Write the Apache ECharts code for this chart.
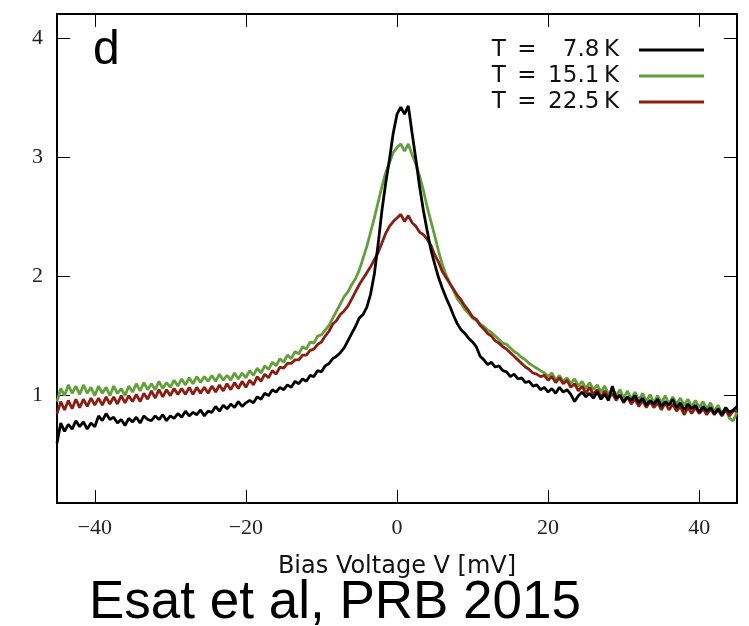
<!DOCTYPE html>
<html>
<head>
<meta charset="utf-8">
<script src="https://cdn.jsdelivr.net/npm/echarts@6/dist/echarts.min.js"></script>
<style>html,body{margin:0;padding:0;background:#fff}#c{width:749px;height:626px}</style>
</head>
<body>
<div id="c"></div>
<script>
// Bias voltage samples [mV]
const voltage = [
-45,-44.5,-44,-43.5,-43,-42.5,-42,-41.5,-41,-40.5,
-40,-39.5,-39,-38.5,-38,-37.5,-37,-36.5,-36,-35.5,
-35,-34.5,-34,-33.5,-33,-32.5,-32,-31.5,-31,-30.5,
-30,-29.5,-29,-28.5,-28,-27.5,-27,-26.5,-26,-25.5,
-25,-24.5,-24,-23.5,-23,-22.5,-22,-21.5,-21,-20.5,
-20,-19.5,-19,-18.5,-18,-17.5,-17,-16.5,-16,-15.5,
-15,-14.5,-14,-13.5,-13,-12.5,-12,-11.5,-11,-10.5,
-10,-9.5,-9,-8.5,-8,-7.5,-7,-6.5,-6,-5.5,
-5,-4.5,-4,-3.5,-3,-2.5,-2,-1.5,-1,-0.5,
0,0.5,1,1.5,2,2.5,3,3.5,4,4.5,
5,5.5,6,6.5,7,7.5,8,8.5,9,9.5,
10,10.5,11,11.5,12,12.5,13,13.5,14,14.5,
15,15.5,16,16.5,17,17.5,18,18.5,19,19.5,
20,20.5,21,21.5,22,22.5,23,23.5,24,24.5,
25,25.5,26,26.5,27,27.5,28,28.5,29,29.5,
30,30.5,31,31.5,32,32.5,33,33.5,34,34.5,
35,35.5,36,36.5,37,37.5,38,38.5,39,39.5,
40,40.5,41,41.5,42,42.5,43,43.5,44,44.5,
45];

const t78 = [
0.60,0.77,0.70,0.76,0.72,0.79,0.74,0.78,0.72,0.77,
0.74,0.83,0.79,0.85,0.80,0.82,0.77,0.80,0.75,0.81,
0.78,0.82,0.77,0.83,0.80,0.79,0.83,0.80,0.84,0.79,
0.83,0.81,0.85,0.82,0.87,0.83,0.86,0.84,0.88,0.83,
0.87,0.86,0.91,0.87,0.92,0.89,0.93,0.90,0.95,0.91,
0.94,0.96,0.94,0.99,0.97,1.02,1.00,1.05,1.03,1.07,
1.05,1.09,1.07,1.12,1.10,1.14,1.12,1.17,1.16,1.21,
1.20,1.25,1.27,1.31,1.33,1.36,1.40,1.46,1.52,1.58,
1.65,1.68,1.74,1.85,2.02,2.27,2.55,2.78,2.98,3.20,
3.36,3.42,3.36,3.43,3.20,2.98,2.75,2.55,2.38,2.22,
2.10,1.99,1.90,1.82,1.75,1.67,1.60,1.55,1.52,1.48,
1.45,1.41,1.33,1.30,1.26,1.28,1.24,1.25,1.21,1.20,
1.16,1.18,1.14,1.15,1.11,1.12,1.08,1.09,1.05,1.07,
1.03,1.06,1.02,1.07,1.03,1.05,1.01,0.95,1.00,1.03,
0.99,1.02,0.98,1.03,0.97,1.01,0.96,1.08,0.98,1.00,
0.95,0.99,0.96,1.00,0.94,0.98,0.92,0.96,0.93,0.97,
0.91,0.95,0.92,0.97,0.90,0.94,0.88,0.93,0.89,0.92,
0.86,0.91,0.87,0.90,0.85,0.89,0.84,0.90,0.86,0.88,
0.91];

const t151 = [
0.95,1.06,1.00,1.09,1.02,1.08,1.01,1.09,1.02,1.07,
1.00,1.08,1.02,1.07,1.00,1.08,1.02,1.06,1.00,1.08,
1.03,1.10,1.04,1.11,1.05,1.10,1.05,1.12,1.06,1.11,
1.07,1.13,1.08,1.14,1.09,1.15,1.10,1.16,1.11,1.16,
1.12,1.17,1.12,1.18,1.13,1.17,1.13,1.19,1.14,1.19,
1.15,1.21,1.17,1.23,1.19,1.25,1.22,1.28,1.25,1.31,
1.28,1.34,1.31,1.37,1.35,1.41,1.39,1.45,1.44,1.50,
1.51,1.55,1.59,1.65,1.71,1.77,1.83,1.87,1.93,1.98,
2.05,2.15,2.25,2.37,2.49,2.62,2.75,2.87,2.95,3.04,
3.08,3.11,3.05,3.11,3.02,2.94,2.84,2.72,2.58,2.46,
2.34,2.21,2.10,2.01,1.94,1.88,1.81,1.77,1.72,1.69,
1.65,1.63,1.60,1.58,1.55,1.53,1.50,1.47,1.44,1.43,
1.40,1.37,1.35,1.32,1.30,1.27,1.25,1.23,1.21,1.19,
1.16,1.19,1.13,1.17,1.12,1.15,1.10,1.14,1.08,1.12,
1.06,1.11,1.05,1.09,1.03,1.08,1.01,1.06,1.00,1.05,
0.98,1.04,0.97,1.03,0.96,1.02,0.95,1.01,0.94,1.00,
0.94,1.00,0.93,0.99,0.93,0.98,0.92,0.97,0.91,0.96,
0.90,0.95,0.89,0.94,0.87,0.92,0.85,0.90,0.81,0.79,
0.86];

const t225 = [
0.85,0.95,0.88,0.96,0.89,0.97,0.90,0.97,0.91,0.98,
0.92,0.98,0.92,0.99,0.93,0.99,0.93,1.00,0.94,1.00,
0.95,1.01,0.95,1.02,0.97,1.04,0.98,1.05,0.99,1.05,
1.00,1.06,1.01,1.06,1.01,1.07,1.01,1.07,1.02,1.07,
1.02,1.08,1.03,1.09,1.04,1.10,1.05,1.11,1.06,1.12,
1.07,1.13,1.09,1.16,1.12,1.18,1.15,1.21,1.18,1.24,
1.23,1.27,1.27,1.30,1.30,1.34,1.34,1.38,1.39,1.43,
1.45,1.50,1.54,1.60,1.63,1.68,1.71,1.75,1.81,1.87,
1.93,1.98,2.03,2.08,2.14,2.20,2.28,2.36,2.42,2.46,
2.49,2.52,2.46,2.51,2.45,2.42,2.37,2.35,2.31,2.26,
2.18,2.12,2.04,1.99,1.94,1.89,1.84,1.80,1.75,1.71,
1.66,1.64,1.59,1.56,1.52,1.50,1.46,1.44,1.41,1.39,
1.36,1.33,1.30,1.27,1.24,1.22,1.19,1.18,1.16,1.17,
1.13,1.16,1.11,1.15,1.10,1.13,1.07,1.10,1.04,1.08,
1.02,1.07,1.01,1.05,0.99,1.04,0.98,1.02,0.96,1.01,
0.94,0.99,0.93,0.97,0.91,0.96,0.90,0.95,0.90,0.94,
0.88,0.94,0.88,0.93,0.87,0.91,0.84,0.90,0.85,0.90,
0.85,0.89,0.84,0.89,0.84,0.88,0.83,0.88,0.83,0.87,
0.87];

const xTicks = [-40, -20, 0, 20, 40];
const yTicks = [1, 2, 3, 4];
const names = ['T\u2002=\u2002\u20077.8\u2009K', 'T\u2002=\u200215.1\u2009K', 'T\u2002=\u200222.5\u2009K'];
const colors = ['#000000', '#62a03a', '#8c1c10'];

const pairs = arr => voltage.map((v, i) => [v, arr[i]]);
const serif = 'Liberation Serif';
const sans = 'DejaVu Sans';
const minus = v => (v < 0 ? '\u2212' + Math.abs(v) : String(v));

const chart = echarts.init(document.getElementById('c'), null, {renderer: 'canvas'});
const tickCommon = {show: true, inside: true, length: 13, lineStyle: {color: '#000', width: 1}};
const noLine = {show: false, onZero: false};

chart.setOption({
  animation: false,
  backgroundColor: '#fff',
  grid: {left: 57, right: 12, top: 14, bottom: 123, show: true, borderColor: '#000', borderWidth: 2, backgroundColor: 'transparent'},
  xAxis: [
    {type: 'value', min: -45, max: 45, position: 'bottom',
     axisLine: noLine, splitLine: {show: false},
     axisTick: Object.assign({customValues: xTicks}, tickCommon),
     axisLabel: {customValues: xTicks, formatter: minus, fontFamily: serif, fontSize: 22, color: '#222', margin: 14},
     name: 'Bias Voltage V [mV]', nameLocation: 'middle', nameGap: 52,
     nameTextStyle: {fontFamily: sans, fontSize: 24, color: '#111'}},
    {type: 'value', min: -45, max: 45, position: 'top',
     axisLine: noLine, splitLine: {show: false},
     axisTick: Object.assign({customValues: xTicks}, tickCommon),
     axisLabel: {show: false}}
  ],
  yAxis: [
    {type: 'value', min: 0.1, max: 4.2, position: 'left',
     axisLine: noLine, splitLine: {show: false},
     axisTick: Object.assign({customValues: yTicks}, tickCommon),
     axisLabel: {customValues: yTicks, fontFamily: serif, fontSize: 22, color: '#222', margin: 14}},
    {type: 'value', min: 0.1, max: 4.2, position: 'right',
     axisLine: noLine, splitLine: {show: false},
     axisTick: Object.assign({customValues: yTicks}, tickCommon),
     axisLabel: {show: false}}
  ],
  legend: {
    orient: 'vertical', right: 40, top: 33, align: 'right',
    itemWidth: 65, itemHeight: 3, itemGap: 2, icon: 'rect',
    data: names,
    textStyle: {fontFamily: sans, fontSize: 23, color: '#111', lineHeight: 24, padding: [0, 15, 0, 0]}
  },
  graphic: [
    {type: 'text', left: 93, top: 27, style: {text: 'd', font: '48px "Liberation Sans"', fill: '#000'}},
    {type: 'text', left: 89, top: 577, style: {text: 'Esat et al, PRB 2015', font: '53px "Liberation Sans"', fill: '#000'}}
  ],
  series: [
    {name: names[1], type: 'line', data: pairs(t151), showSymbol: false, symbol: 'none', color: colors[1], lineStyle: {width: 2.8, color: colors[1]}, z: 2},
    {name: names[2], type: 'line', data: pairs(t225), showSymbol: false, symbol: 'none', color: colors[2], lineStyle: {width: 2.8, color: colors[2]}, z: 3},
    {name: names[0], type: 'line', data: pairs(t78), showSymbol: false, symbol: 'none', color: colors[0], lineStyle: {width: 2.8, color: colors[0]}, z: 4}
  ]
});
</script>
</body>
</html>
